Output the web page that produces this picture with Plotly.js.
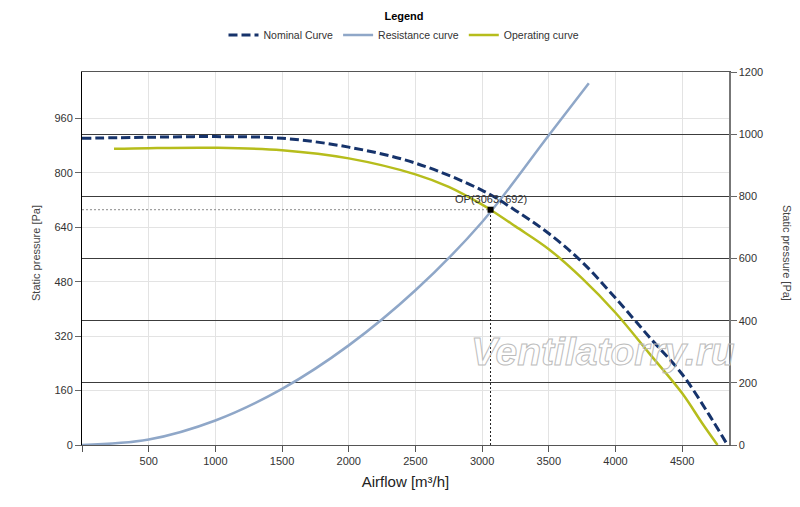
<!DOCTYPE html>
<html>
<head>
<meta charset="utf-8">
<script src="https://cdn.plot.ly/plotly-3.0.1.min.js"></script>
<style>
html,body{margin:0;padding:0;background:#fff;}
.annotation[data-index="1"] .annotation-text{stroke:#bcbcbc;stroke-width:1px;}
</style>
</head>
<body>
<div id="chart" style="width:800px;height:507px;"></div>
<script>
// Airflow [m³/h] and static pressure [Pa]
const nominalX = [0, 500, 1000, 1500, 2000, 2500, 3000, 3250, 3500, 3750, 4000, 4250, 4500, 4700, 4840];
const nominalY = [902, 905, 907, 902, 876, 829, 749, 690, 622, 538, 432, 319, 208, 90, 0];

const operatingX = [240, 500, 1000, 1500, 2000, 2500, 2750, 3000, 3063, 3250, 3500, 3750, 4000, 4250, 4500, 4650, 4765];
const operatingY = [871, 873, 874, 867, 843, 796, 759, 707, 692, 643, 576, 490, 389, 271, 152, 64, 0];

const resistanceX = [0, 500, 1000, 1500, 2000, 2500, 3000, 3500, 3800];
const resistanceY = [0, 16, 72, 165, 293, 455, 656, 911, 1064];

const opX = [3063];
const opY = [692];

const leftTicks = [0, 160, 320, 480, 640, 800, 960];
const rightTicks = [0, 200, 400, 600, 800, 1000, 1200];
const xTicks = [0, 500, 1000, 1500, 2000, 2500, 3000, 3500, 4000, 4500];
const xTickText = xTicks.map(v => v === 0 ? '' : String(v));

const FONT = 'Liberation Sans, Arial, sans-serif';

const traces = [
  {x: [0, opX[0]], y: [opY[0], opY[0]], mode: 'lines', showlegend: false, hoverinfo: 'skip',
   line: {color: '#8a8a8a', width: 1, dash: '2px,2px'}},
  {x: [opX[0], opX[0]], y: [0, opY[0]], mode: 'lines', showlegend: false, hoverinfo: 'skip',
   line: {color: '#222', width: 1, dash: '2px,2px'}},
  {x: resistanceX, y: resistanceY, mode: 'lines', name: 'Resistance curve', legendrank: 2,
   line: {color: '#8fa7c8', width: 2.5, shape: 'spline'}},
  {x: operatingX, y: operatingY, mode: 'lines', name: 'Operating curve', legendrank: 3,
   line: {color: '#b6bd1c', width: 2.5, shape: 'spline'}},
  {x: nominalX, y: nominalY, mode: 'lines', name: 'Nominal Curve', legendrank: 1,
   line: {color: '#16336b', width: 3, dash: '9px,4px', shape: 'spline'}},
  {x: opX, y: opY, mode: 'markers', showlegend: false,
   marker: {symbol: 'square', size: 6, color: '#000'}},
  {x: [], y: [], yaxis: 'y2', showlegend: false, hoverinfo: 'skip'}
];

const tickFont = {family: FONT, size: 11, color: '#333'};

const layout = {
  width: 800, height: 507,
  margin: {l: 82, r: 71, t: 72, b: 62},
  paper_bgcolor: '#fff', plot_bgcolor: '#fff',
  font: {family: FONT, size: 11, color: '#333'},
  showlegend: true,
  legend: {
    orientation: 'h', xref: 'container', yref: 'container',
    x: 0.505, xanchor: 'center', y: 0.988, yanchor: 'top',
    font: {family: FONT, size: 10.5, color: '#333'},
    title: {text: 'Legend', side: 'top center', font: {family: FONT, size: 11, color: '#000', weight: 'bold'}},
    itemwidth: 30, tracegroupgap: 0
  },
  xaxis: {
    range: [0, 4851], tickmode: 'array', tickvals: xTicks, ticktext: xTickText,
    showgrid: true, gridcolor: '#e3e3e3', gridwidth: 1, zeroline: false,
    showline: true, linecolor: '#555', linewidth: 1, mirror: true,
    ticks: 'outside', ticklen: 6, tickcolor: '#555', tickfont: tickFont,
    title: {text: 'Airflow [m³/h]', font: {family: FONT, size: 15, color: '#222'}, standoff: 10}
  },
  yaxis: {
    range: [0, 1097], tickmode: 'array', tickvals: leftTicks,
    showgrid: true, gridcolor: '#e3e3e3', gridwidth: 1, zeroline: false,
    showline: true, linecolor: '#000', linewidth: 1,
    ticks: 'outside', ticklen: 6, tickcolor: '#666', tickfont: tickFont
  },
  yaxis2: {
    overlaying: 'y', side: 'right', anchor: 'x',
    range: [0, 1200], tickmode: 'array', tickvals: rightTicks,
    showgrid: true, gridcolor: '#3c3c3c', gridwidth: 1, zeroline: false,
    showline: true, linecolor: '#777', linewidth: 1.5,
    ticks: 'outside', ticklen: 6, tickcolor: '#666', tickfont: tickFont
  },
  annotations: [
    {x: opX[0], y: opY[0], xref: 'x', yref: 'y', text: 'OP(' + opX[0] + ', ' + opY[0] + ')',
     showarrow: false, xanchor: 'center', yanchor: 'bottom', yshift: 3,
     font: {family: FONT, size: 11, color: '#333'}},
    {x: 0.806, y: 0.252, xref: 'paper', yref: 'paper', text: 'Ventilatorry.ru', showarrow: false,
     xanchor: 'center', yanchor: 'middle',
     font: {family: FONT, size: 39, color: 'rgba(255,255,255,0)', style: 'italic', weight: 'bold'}},
    {x: -0.071, y: 0.515, xref: 'paper', yref: 'paper', text: 'Static pressure [Pa]', showarrow: false,
     textangle: -90, xanchor: 'center', yanchor: 'middle', font: {family: FONT, size: 11, color: '#444'}},
    {x: 1.0896, y: 0.515, xref: 'paper', yref: 'paper', text: 'Static pressure [Pa]', showarrow: false,
     textangle: 90, xanchor: 'center', yanchor: 'middle', font: {family: FONT, size: 11, color: '#444'}}
  ]
};

Plotly.newPlot('chart', traces, layout, {displayModeBar: false, staticPlot: true});
</script>
</body>
</html>
